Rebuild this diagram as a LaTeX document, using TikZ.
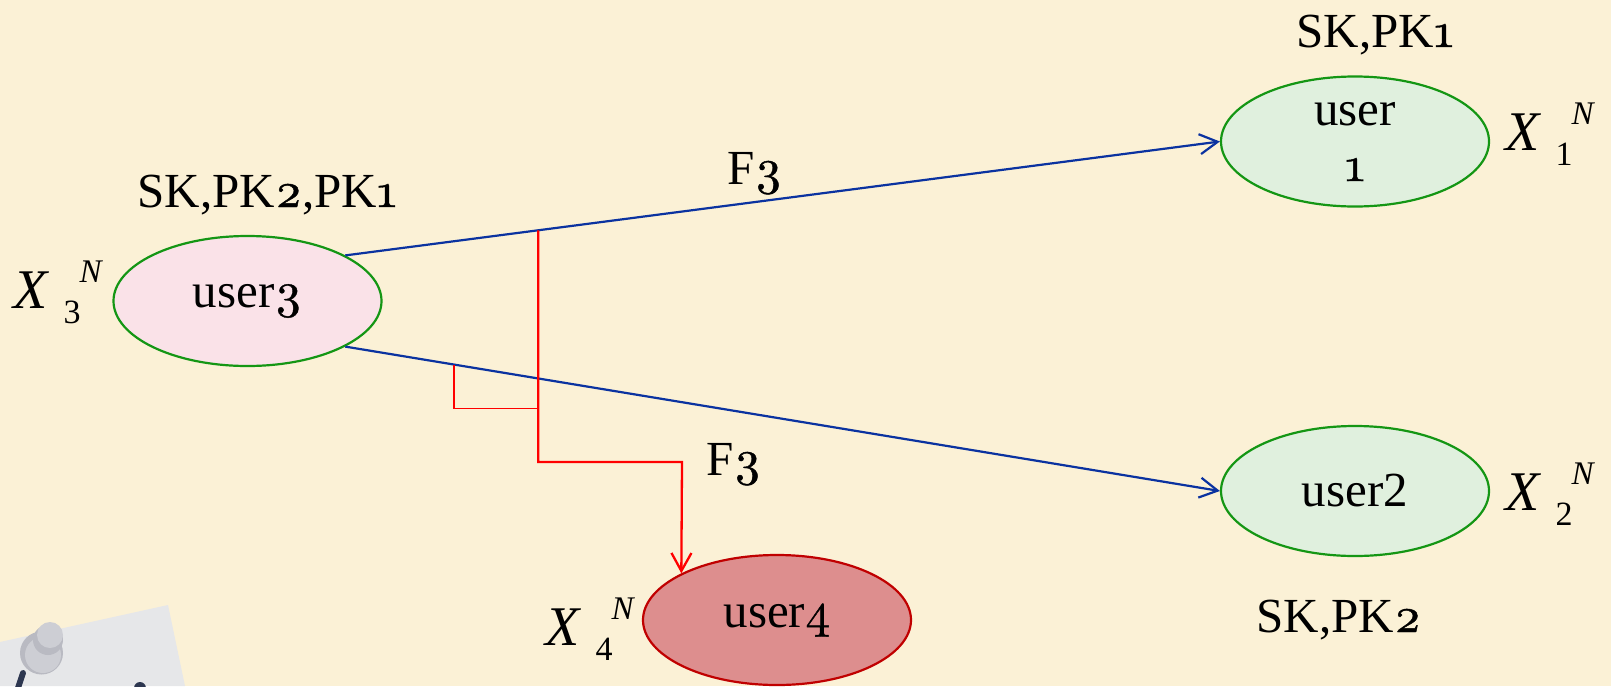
\documentclass[tikz,border=0pt]{standalone}
\usepackage{fontspec}
\setmainfont{Liberation Serif}
\newfontfamily\osf[Numbers=OldStyle,FakeBold=0.8]{lmroman10-regular.otf}
\usetikzlibrary{arrows.meta,shapes.geometric,calc}
\definecolor{bg}{RGB}{251,241,214}
\definecolor{ellgreen}{RGB}{20,150,20}
\definecolor{fillgreen}{RGB}{224,240,222}
\definecolor{fillpink}{RGB}{250,226,232}
\definecolor{fillred}{RGB}{221,142,142}
\definecolor{drawred}{RGB}{192,0,0}
\definecolor{lineblue}{RGB}{10,50,160}
\definecolor{linered}{RGB}{255,0,0}
\definecolor{papergrey}{RGB}{230,231,233}
\definecolor{pinlight}{RGB}{205,206,212}
\definecolor{pindark}{RGB}{185,186,194}
\definecolor{inkblue}{RGB}{45,55,80}
\newcommand{\od}[1]{{\osf #1}}
\newcommand{\xlab}[1]{\fontsize{28}{28}\selectfont\itshape X\hspace{8pt}\raisebox{-7.5pt}{\fontsize{17}{17}\selectfont\upshape #1}\hspace{-0.5pt}\raisebox{13pt}{\fontsize{16.5}{16.5}\selectfont N}}
\tikzset{
  userell/.style={ellipse, draw=ellgreen, line width=1.1pt, minimum width=134pt, minimum height=65pt, inner sep=0pt, align=center, font=\fontsize{24.5}{28}\selectfont},
  lbl/.style={anchor=base west, inner sep=0pt, font=\fontsize{24.5}{28}\selectfont},
  xl/.style={anchor=base west, inner sep=0pt},
  blueconn/.style={draw=lineblue, line width=1.1pt, -{Straight Barb[length=9pt,width=10pt]}},
  redconn/.style={draw=linered, line width=1.15pt},
}
\begin{document}
\begin{tikzpicture}[x=0.5pt,y=-0.5pt]
\fill[bg] (0,0) rectangle (1611,686);
\useasboundingbox (0,0) rectangle (1611,686);
% paper and pin
\fill[papergrey] (0,642) -- (168,605) -- (185,686) -- (0,686) -- cycle;
\fill[pindark] (41.5,653) circle (10.75pt);
\fill[pinlight] (43,655) circle (9pt);
\fill[pindark] (48,640) circle (7.5pt);
\fill[pinlight] (50,635) circle (6.5pt);
\draw[inkblue, line width=3pt, line cap=round] (23,673) -- (18,688);
\fill[inkblue] (140,688) circle (3pt);
% nodes
\node[userell, fill=fillpink] (u3) at (247.5,301) {user\od{3}};
\node[userell, fill=fillgreen] (u1) at (1355,141.5) {user\\\od{1}};
\node[userell, fill=fillgreen] (u2) at (1355,491) {user2};
\node[userell, fill=fillred, draw=drawred] (u4) at (777,620) {user\od{4}};
% labels
\node[lbl] (sk1) at (1296,47) {SK,PK\od{1}};
\node[lbl] (sk21) at (137,207) {SK,PK\od{2},PK\od{1}};
\node[lbl] (sk2) at (1256,632) {SK,PK\od{2}};
\node[lbl] (f3a) at (727,184) {F\od{3}};
\node[lbl] (f3b) at (706,475) {F\od{3}};
\node[xl] (x1) at (1505,150) {\xlab{1}};
\node[xl] (x2) at (1505,510) {\xlab{2}};
\node[xl] (x3) at (13,308) {\xlab{3}};
\node[xl] (x4) at (545,645) {\xlab{4}};
% blue connectors
\draw[blueconn] (u3.25.7) -- (u1.west);
\draw[blueconn] (u3.-25.7) -- (u2.west);
% red connector
\coordinate (r1) at ($(u3.25.7)!0.2206!(u1.west)$);
\coordinate (r4) at ($(u3.-25.7)!0.1245!(u2.west)$);
\coordinate (r2) at (682,462);
\coordinate (r3) at ($(r1)!0.77!(r1|-r2)$);
\draw[redconn, -{Straight Barb[length=9pt,width=10pt]}] (r1) |- (r2) -- (u4.154);
\draw[draw=linered, line width=0.75pt] (r3) -| (r4);
\end{tikzpicture}
\end{document}
